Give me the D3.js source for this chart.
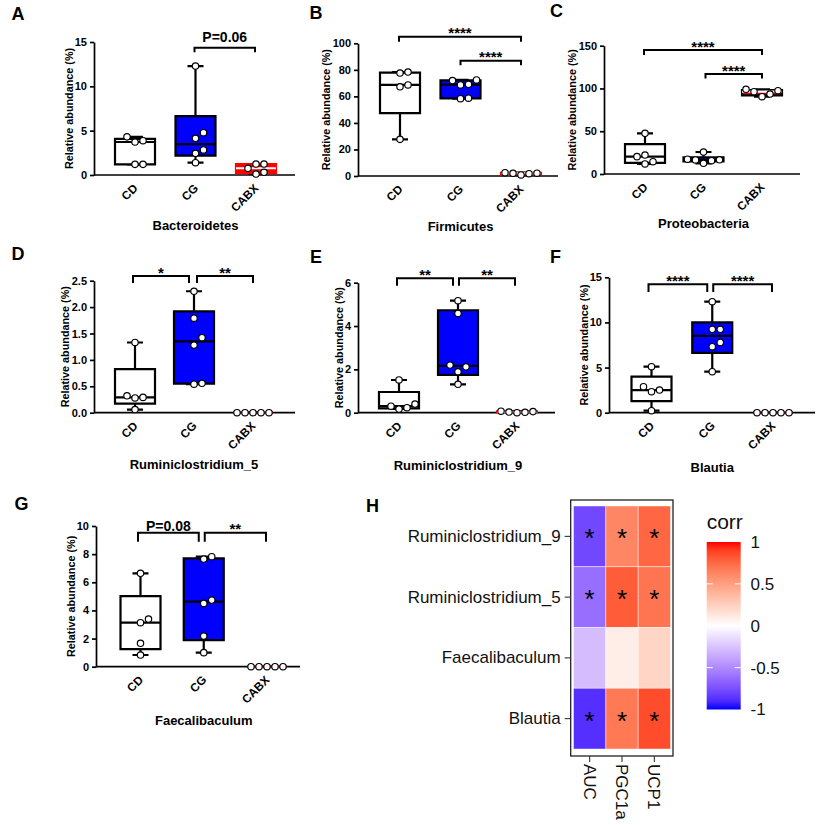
<!DOCTYPE html>
<html><head><meta charset="utf-8">
<script src="https://cdn.jsdelivr.net/npm/d3@7"></script>
<style>body{margin:0;background:#fff} svg{display:block}</style>
</head><body><svg id="c" width="817" height="825"></svg>
<script>
// ---------------- DATA ----------------
const groups = ["CD", "CG", "CABX"];
// each array: [CD values, CG values, CABX values] (relative abundance %)
const bacteroidetes      = [[1.2, 1.2, 3.72, 3.87, 4.3], [1.39, 2.44, 2.82, 4.14, 4.77, 12.29], [0.11, 0.3, 0.76, 1.24, 1.24]];
const firmicutes         = [[27.6, 67.2, 68.6, 77.6, 78.3], [58.3, 58.6, 68.6, 69.1, 71.9, 72.4], [0.8, 1.7, 2.0, 2.1, 2.5]];
const proteobacteria     = [[11.7, 14.4, 20.3, 22.2, 47.5], [12.5, 15.6, 16.4, 16.6, 17.3, 25.7], [90.4, 93.5, 96.2, 97.4, 99.0]];
const ruminiclostridium5 = [[0.06, 0.28, 0.29, 0.32, 1.33], [0.54, 0.556, 1.28, 1.42, 1.79, 2.30], [0, 0, 0, 0, 0]];
const ruminiclostridium9 = [[0.17, 0.23, 0.3, 0.4, 1.51], [1.31, 1.89, 2.12, 2.2, 4.58, 5.17], [0.0, 0.02, 0.03, 0.05, 0.07]];
const blautia            = [[0.22, 2.33, 2.51, 2.88, 5.1], [4.54, 7.31, 7.79, 9.24, 9.24, 12.3], [0, 0, 0, 0, 0]];
const faecalibaculum     = [[0.83, 1.66, 3.13, 3.39, 6.64], [1.0, 2.18, 4.5, 4.74, 7.65, 7.82], [0, 0, 0, 0, 0]];

const ticksA = [0, 5, 10, 15],            tickLabelsA = ["0", "5", "10", "15"];
const ticksB = [0, 20, 40, 60, 80, 100],  tickLabelsB = ["0", "20", "40", "60", "80", "100"];
const ticksC = [0, 50, 100, 150],         tickLabelsC = ["0", "50", "100", "150"];
const ticksD = [0, 0.5, 1, 1.5, 2, 2.5],  tickLabelsD = ["0.0", "0.5", "1.0", "1.5", "2.0", "2.5"];
const ticksE = [0, 2, 4, 6],              tickLabelsE = ["0", "2", "4", "6"];
const ticksF = [0, 5, 10, 15],            tickLabelsF = ["0", "5", "10", "15"];
const ticksG = [0, 2, 4, 6, 8, 10],       tickLabelsG = ["0", "2", "4", "6", "8", "10"];

// comparisons: [groupIndexA, groupIndexB, label]
const compA = [[1, 2, "P=0.06"]];
const compB = [[0, 2, "****"], [1, 2, "****"]];
const compC = [[0, 2, "****"], [1, 2, "****"]];
const compD = [[0, 1, "*"], [1, 2, "**"]];
const compE = [[0, 1, "**"], [1, 2, "**"]];
const compF = [[0, 1, "****"], [1, 2, "****"]];
const compG = [[0, 1, "P=0.08"], [1, 2, "**"]];

// heatmap (correlation)
const heatRows = ["Ruminiclostridium_9", "Ruminiclostridium_5", "Faecalibaculum", "Blautia"];
const heatCols = ["AUC", "PGC1a", "UCP1"];
const corrR9 = [-0.78, 0.62, 0.76];
const corrR5 = [-0.62, 0.80, 0.70];
const corrFaec = [-0.28, 0.09, 0.22];
const corrBlautia = [-0.88, 0.68, 0.86];
const sigR9 = [true, true, true];
const sigR5 = [true, true, true];
const sigFaec = [false, false, false];
const sigBlautia = [true, true, true];
const legendBreaks = [1, 0.5, 0, -0.5, -1];
const legendLabels = ["1", "0.5", "0", "-0.5", "-1"];

// ---------------- LAYOUT ----------------
const FONT = '"Liberation Sans", Arial, Helvetica, sans-serif';
const fills = ["#ffffff", "#0000ff", "#ff0000"];

const panels = [
  {letter: "A", lx: 11.5, ly: 20,  title: "Bacteroidetes", data: bacteroidetes, ticks: ticksA, tl: tickLabelsA, comp: compA,
   x0: 94, x1: 295, c0: 135, c2: 256, yTop: 42, yBot: 175, ty: 229.5, cabxStroke: "#ff0000",
   br: [{y: 47.7, drop: 4.5, ty: 41.7, ia: -1, ib: -1}]},
  {letter: "B", lx: 309.5, ly: 18.5, title: "Firmicutes", data: firmicutes, ticks: ticksB, tl: tickLabelsB, comp: compB,
   x0: 358, x1: 558, c0: 400, c2: 521, yTop: 43.3, yBot: 176, ty: 230.5, cabxStroke: "#ff0000",
   br: [{y: 36.7, drop: 5, ia: -1, ib: 0}, {y: 60.7, drop: 4.5, ia: 0, ib: 0}]},
  {letter: "C", lx: 550, ly: 17, title: "Proteobacteria", data: proteobacteria, ticks: ticksC, tl: tickLabelsC, comp: compC,
   x0: 604, x1: 800, c0: 645, c2: 762, yTop: 45.7, yBot: 174, ty: 227.5, cabxStroke: "#000000",
   br: [{y: 50, drop: 5, ia: -1, ib: 0}, {y: 74, drop: 4.5, ia: 2, ib: 0}]},
  {letter: "D", lx: 11.5, ly: 260, title: "Ruminiclostridium_5", data: ruminiclostridium5, ticks: ticksD, tl: tickLabelsD, comp: compD,
   x0: 94, x1: 295, c0: 135, c2: 253, yTop: 280.7, yBot: 412.7, ty: 468.5, cabxStroke: "#ff0000",
   br: [{y: 276, drop: 7, ia: -2, ib: -5}, {y: 276, drop: 7, ia: 3, ib: 0}]},
  {letter: "E", lx: 310, ly: 263, title: "Ruminiclostridium_9", data: ruminiclostridium9, ticks: ticksE, tl: tickLabelsE, comp: compE,
   x0: 358, x1: 555, c0: 399, c2: 517, yTop: 282.7, yBot: 412.7, ty: 469.5, cabxStroke: "#ff0000",
   br: [{y: 278.3, drop: 7.4, ia: -2, ib: -5}, {y: 278.3, drop: 7.4, ia: 1, ib: -2}]},
  {letter: "F", lx: 550, ly: 263, title: "Blautia", data: blautia, ticks: ticksF, tl: tickLabelsF, comp: compF,
   x0: 609, x1: 815, c0: 651.5, c2: 773, yTop: 277.3, yBot: 412.7, ty: 471.5, cabxStroke: "#ff0000",
   br: [{y: 284.3, drop: 7.7, ia: -3, ib: -5}, {y: 284.3, drop: 7.7, ia: 1, ib: -1}]},
  {letter: "G", lx: 14.5, ly: 510, title: "Faecalibaculum", data: faecalibaculum, ticks: ticksG, tl: tickLabelsG, comp: compG,
   x0: 96, x1: 300, c0: 140.5, c2: 267, yTop: 526, yBot: 666.7, ty: 724.5, cabxStroke: "#ff0000",
   br: [{y: 532.7, drop: 9, ty: 531.3, ia: -2.5, ib: -5}, {y: 532.7, drop: 9, ia: 1, ib: -1}]}
];

const svg = d3.select("#c");

function qGP(s, p) {
  const n = s.length, h = (n + 1) * p;
  if (h <= 1) return s[0];
  if (h >= n) return s[n - 1];
  const lo = Math.floor(h);
  return s[lo - 1] + (h - lo) * (s[lo] - s[lo - 1]);
}

function swarm(ys, step, dmin) {
  const placed = [];
  const cands = [0, step, -step, 2 * step, -2 * step, 3 * step, -3 * step];
  return ys.map(yv => {
    for (const c of cands) {
      if (placed.every(p => Math.hypot(p[0] - c, p[1] - yv) >= dmin)) { placed.push([c, yv]); return c; }
    }
    placed.push([0, yv]); return 0;
  });
}

panels.forEach(cfg => {
  const g = svg.append("g");
  const y = d3.scaleLinear().domain([0, cfg.ticks[cfg.ticks.length - 1]]).range([cfg.yBot, cfg.yTop]);
  const x = d3.scalePoint().domain(groups).range([cfg.c0, cfg.c2]);

  g.append("text").attr("x", cfg.lx).attr("y", cfg.ly).text(cfg.letter)
    .attr("font-family", FONT).attr("font-weight", "bold").attr("font-size", 18);

  g.append("line").attr("x1", cfg.x0).attr("x2", cfg.x1).attr("y1", cfg.yBot).attr("y2", cfg.yBot)
    .attr("stroke", "#000").attr("stroke-width", 1.7);

  const xa = g.append("g").attr("transform", `translate(0,${cfg.yBot})`)
    .call(d3.axisBottom(x).tickSize(0));
  xa.select(".domain").remove();
  xa.attr("font-family", FONT).attr("font-size", 11.8).attr("font-weight", "bold");
  xa.selectAll("text").attr("x", 0).attr("y", 0).attr("dy", "0.35em").attr("fill", "#000")
    .attr("text-anchor", "end").attr("transform", "translate(0,11) rotate(-45)");

  const ya = g.append("g").attr("transform", `translate(${cfg.x0},0)`)
    .call(d3.axisLeft(y).tickValues(cfg.ticks).tickFormat((d, i) => cfg.tl[i]).tickSize(4).tickSizeOuter(0));
  ya.attr("font-family", FONT).attr("font-size", 11).attr("font-weight", "bold");
  ya.selectAll("path,line").attr("stroke", "#000").attr("stroke-width", 1.7);
  ya.selectAll("text").attr("fill", "#000");
  const bb = ya.node().getBBox();
  const labX = cfg.x0 + bb.x - 6;
  g.append("text").attr("transform", `translate(${labX},${(cfg.yTop + cfg.yBot) / 2}) rotate(-90)`)
    .attr("text-anchor", "middle").attr("dy", "0.35em").text("Relative abundance (%)")
    .attr("font-family", FONT).attr("font-weight", "bold").attr("font-size", 10.8);

  g.append("text").attr("x", x(groups[1])).attr("y", cfg.ty).attr("text-anchor", "middle").text(cfg.title)
    .attr("font-family", FONT).attr("font-weight", "bold").attr("font-size", 13);

  groups.forEach((gn, i) => {
    const vals = cfg.data[i].slice().sort(d3.ascending);
    const q1 = qGP(vals, 0.25), med = qGP(vals, 0.5), q3 = qGP(vals, 0.75);
    const mn = vals[0], mx = vals[vals.length - 1];
    const cx = x(gn), hw = 20, cw = 8;
    const gg = g.append("g");
    gg.append("path").attr("d", `M${cx},${y(q3)}V${y(mx)}M${cx - cw},${y(mx)}H${cx + cw}M${cx},${y(q1)}V${y(mn)}M${cx - cw},${y(mn)}H${cx + cw}`)
      .attr("stroke", "#000").attr("stroke-width", 2.2).attr("fill", "none");
    const stroke = i === 2 ? cfg.cabxStroke : "#000";
    gg.append("path").attr("d", `M${cx - hw},${y(q3)}H${cx + hw}V${y(q1)}H${cx - hw}Z`)
      .attr("fill", fills[i]).attr("stroke", stroke).attr("stroke-width", 2.2);
    if (!(i === 2 && q3 === q1)) {
      gg.append("line").attr("x1", cx - hw).attr("x2", cx + hw).attr("y1", y(med)).attr("y2", y(med))
        .attr("stroke", i === 2 ? "#ffffff" : "#000").attr("stroke-width", 2.2);
    }
    const ys = vals.map(v => y(v));
    const offs = swarm(ys, 8, 7.6);
    gg.selectAll("circle").data(vals).join("circle")
      .attr("cx", (d, k) => cx + offs[k]).attr("cy", (d, k) => ys[k]).attr("r", 3.2)
      .attr("fill", "#fff").attr("stroke", "#000").attr("stroke-width", 1.15);
  });

  cfg.comp.forEach((c, k) => {
    const b = cfg.br[k];
    const xa1 = x(groups[c[0]]) + b.ia, xb1 = x(groups[c[1]]) + b.ib;
    g.append("path").attr("d", `M${xa1},${b.y + b.drop}V${b.y}H${xb1}V${b.y + b.drop}`)
      .attr("fill", "none").attr("stroke", "#000").attr("stroke-width", 2);
    const isP = c[2].startsWith("P");
    g.append("text").attr("x", (xa1 + xb1) / 2).attr("y", isP ? b.ty : b.y + 1.5)
      .attr("text-anchor", "middle").text(c[2])
      .attr("font-family", FONT).attr("font-weight", "bold").attr("font-size", isP ? 14 : 15);
  });
});

// ---------------- HEATMAP (H) ----------------
const corrRows = [corrR9, corrR5, corrFaec, corrBlautia];
const sigRows = [sigR9, sigR5, sigFaec, sigBlautia];
const hg = svg.append("g");
hg.append("text").attr("x", 366).attr("y", 512).text("H")
  .attr("font-family", FONT).attr("font-weight", "bold").attr("font-size", 18);

const hx = d3.scaleBand().domain(heatCols).range([573.5, 670.5]);
const hy = d3.scaleBand().domain(heatRows).range([506, 749]);
const col = d3.scaleLinear().domain([-1, 0, 1]).range(["#0000ff", "#ffffff", "#ff0000"]).interpolate(d3.interpolateLab);

const cells = [];
heatRows.forEach((r, i) => heatCols.forEach((c, j) => cells.push({r, c, v: corrRows[i][j], s: sigRows[i][j]})));

hg.selectAll("rect.cell").data(cells).join("rect").attr("class", "cell")
  .attr("x", d => hx(d.c)).attr("y", d => hy(d.r)).attr("width", hx.bandwidth()).attr("height", hy.bandwidth())
  .attr("fill", d => col(d.v)).attr("stroke", "rgba(255,255,255,0.55)").attr("stroke-width", 0.8);
hg.selectAll("text.star").data(cells.filter(d => d.s)).join("text").attr("class", "star")
  .attr("x", d => hx(d.c) + hx.bandwidth() / 2).attr("y", d => hy(d.r) + hy.bandwidth() / 2 + 11)
  .attr("text-anchor", "middle").text("*").attr("font-family", FONT).attr("font-size", 26).attr("fill", "#000");

hg.append("rect").attr("x", 570.7).attr("y", 500).attr("width", 102.3).attr("height", 256)
  .attr("fill", "none").attr("stroke", "#222").attr("stroke-width", 1.3);

const hya = hg.append("g").attr("transform", "translate(570.7,0)")
  .call(d3.axisLeft(hy).tickSize(6).tickPadding(4));
hya.select(".domain").remove();
hya.attr("font-family", FONT).attr("font-size", 17);
hya.selectAll("line").attr("stroke", "#333").attr("stroke-width", 1.1);
hya.selectAll("text").attr("fill", "#111");

const hxa = hg.append("g").attr("transform", "translate(0,756)")
  .call(d3.axisBottom(hx).tickSize(6));
hxa.select(".domain").remove();
hxa.attr("font-family", FONT).attr("font-size", 17);
hxa.selectAll("line").attr("stroke", "#333").attr("stroke-width", 1.1);
hxa.selectAll("text").attr("fill", "#111").attr("x", 8).attr("y", 0).attr("dy", "0.35em")
  .attr("text-anchor", "start").attr("transform", "rotate(90)");

const cb = d3.scaleLinear().domain([-1, 1]).range([709.5, 542]);
const defs = svg.append("defs");
const grad = defs.append("linearGradient").attr("id", "cbg").attr("x1", 0).attr("y1", 1).attr("x2", 0).attr("y2", 0);
d3.range(0, 1.0001, 0.05).forEach(t => grad.append("stop").attr("offset", t).attr("stop-color", col(-1 + 2 * t)));
hg.append("rect").attr("x", 706.7).attr("y", cb(1)).attr("width", 34).attr("height", cb(-1) - cb(1)).attr("fill", "url(#cbg)");
legendBreaks.forEach((v, i) => {
  if (Math.abs(v) < 1) {
    hg.append("path").attr("d", `M706.7,${cb(v)}h6M740.7,${cb(v)}h-6`).attr("stroke", "#fff").attr("stroke-width", 1);
  }
  hg.append("text").attr("x", 750.5).attr("y", cb(v)).attr("dy", "0.35em").text(legendLabels[i])
    .attr("font-family", FONT).attr("font-size", 17).attr("fill", "#111");
});
hg.append("text").attr("x", 706.7).attr("y", 529).text("corr").attr("font-family", FONT).attr("font-size", 21).attr("fill", "#111");
</script>
</body></html>
